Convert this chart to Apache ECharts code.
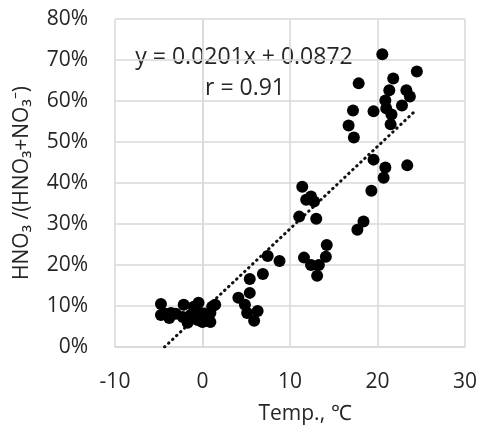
<!DOCTYPE html>
<html>
<head>
<meta charset="utf-8">
<style>html,body{margin:0;padding:0;background:#fff;}#c{width:480px;height:435px;}</style>
<script src="https://cdn.jsdelivr.net/npm/echarts@6/dist/echarts.min.js"></script>
</head>
<body>
<div id="c"></div>
<script>
// Temperature (°C)
var tempC = [-4.75,-4.75,-4.2,-3.6,-3.05,-2.15,-2.25,-1.7,-1.35,-1.0,-0.45,-0.55,0.0,-0.2,0.9,0.9,1.45,1.1,0.35,-3.8,
  4.1,4.85,5.4,5.1,6.3,5.9,5.4,6.9,7.45,8.8,
  11.4,11.85,12.4,12.75,11.05,13.0,11.6,12.4,13.3,13.1,14.1,14.2,
  20.55,24.5,17.85,21.8,21.35,23.3,23.7,20.9,22.8,21.0,21.6,21.5,17.2,16.7,17.3,19.55,19.55,20.9,20.7,23.4,19.3,18.4,17.7];
// HNO3/(HNO3+NO3-) in percent
var ratioPct = [10.5,7.8,8.1,8.3,8.1,10.3,7.3,5.9,7.8,9.8,10.8,6.6,6.1,8.3,6.1,8.3,10.3,9.8,7.1,7.1,
  12.0,10.3,13.2,8.3,8.8,6.4,16.6,17.8,22.2,21.0,
  39.1,35.9,36.7,35.5,31.8,31.3,21.8,20.0,20.0,17.4,22.0,24.9,
  71.4,67.2,64.3,65.5,62.6,62.6,61.1,60.1,58.9,58.2,56.7,54.3,57.7,54.0,51.1,57.5,45.7,43.8,41.3,44.3,38.1,30.6,28.6];
// Trend line from the printed equation y = 0.0201x + 0.0872 (fraction)
var slope = 0.0201, intercept = 0.0872;
var trendX = [-4.34, 24.1];
var xTicks = [-10, 0, 10, 20, 30];
var yTicks = [0, 10, 20, 30, 40, 50, 60, 70, 80];
var eqText = 'y = 0.0201x + 0.0872';
var rText = 'r = 0.91';

var pts = tempC.map(function (t, i) { return [t, ratioPct[i]]; });
var trend = trendX.map(function (x) { return [x, (slope * x + intercept) * 100]; });

var font = 'Open Sans';
var txt = '#262626';
var gridCol = '#d9d9d9';
var chart = echarts.init(document.getElementById('c'), null, {renderer: 'canvas'});
chart.setOption({
  animation: false,
  textStyle: {fontFamily: font},
  grid: {left: 115, right: 12, top: 19, bottom: 88, containLabel: false},
  xAxis: {
    type: 'value', min: xTicks[0], max: xTicks[xTicks.length - 1], interval: 10,
    name: 'Temp., \u2103', nameLocation: 'middle', nameGap: 57,
    nameTextStyle: {fontFamily: font, fontSize: 21, color: txt, padding: [0, 0, 0, 30]},
    axisLine: {show: true, lineStyle: {color: gridCol, width: 1.5}},
    axisTick: {show: false},
    axisLabel: {fontFamily: font, fontSize: 21, color: txt, margin: 25},
    splitLine: {show: true, lineStyle: {color: gridCol, width: 1.5}}
  },
  yAxis: {
    type: 'value', min: yTicks[0], max: yTicks[yTicks.length - 1], interval: 10,
    name: 'HNO\u2083 /(HNO\u2083+NO\u2083\u207B)', nameLocation: 'middle', nameGap: 82, nameRotate: 90,
    nameTextStyle: {fontFamily: font, fontSize: 21, color: txt},
    axisLine: {show: true, lineStyle: {color: gridCol, width: 1.5}},
    axisTick: {show: false},
    axisLabel: {fontFamily: font, fontSize: 21, color: txt, margin: 27, formatter: '{value}%'},
    splitLine: {show: true, lineStyle: {color: gridCol, width: 1.5}}
  },
  series: [
    {
      type: 'line', data: trend, symbol: 'none', silent: true, z: 3,
      lineStyle: {color: '#111', width: 3, type: [0.5, 5], cap: 'round'}
    },
    {
      type: 'scatter', data: pts, symbol: 'circle', symbolSize: 12, z: 4,
      itemStyle: {color: '#000', opacity: 1}
    }
  ],
  graphic: [
    {type: 'text', style: {text: eqText, x: 0, y: 0, font: '23px "Open Sans"', fill: txt, textAlign: 'center', textVerticalAlign: 'middle'}, x: 244, y: 57},
    {type: 'text', style: {text: rText, x: 0, y: 0, font: '23px "Open Sans"', fill: txt, textAlign: 'center', textVerticalAlign: 'middle'}, x: 245, y: 88}
  ]
});
</script>
</body>
</html>
